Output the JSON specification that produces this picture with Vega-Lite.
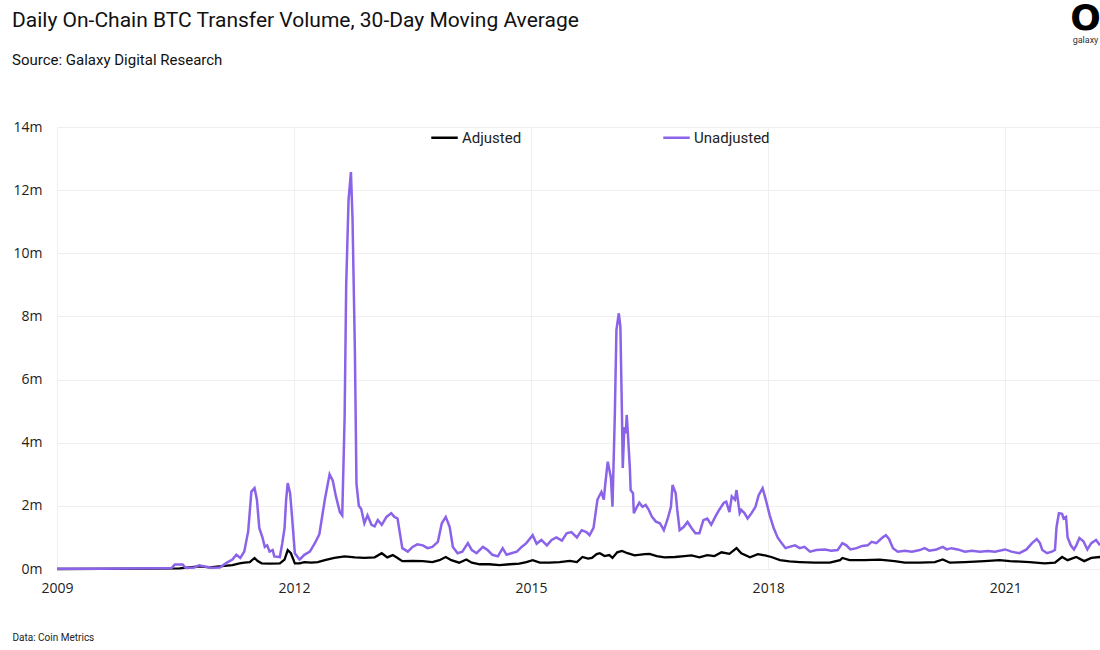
{
  "$schema": "https://vega.github.io/schema/vega-lite/v6.json",
  "autosize": {"type": "none"},
  "width": 1043,
  "height": 442,
  "padding": {"left": 57, "top": 127, "right": 0, "bottom": 81},
  "background": "white",
  "title": {
    "text": "Daily On-Chain BTC Transfer Volume, 30-Day Moving Average",
    "subtitle": "Source: Galaxy Digital Research",
    "anchor": "start",
    "frame": "group",
    "dx": -45,
    "offset": -68,
    "font": "Roboto",
    "fontSize": 21,
    "fontWeight": "normal",
    "color": "#111111",
    "subtitleFont": "Roboto",
    "subtitleFontSize": 15,
    "subtitleColor": "#111111",
    "subtitlePadding": 22
  },
  "config": {
    "view": {"stroke": null},
    "axis": {"labelFont": "Open Sans", "labelFontSize": 14, "labelColor": "#222222", "gridColor": "#efefef", "gridWidth": 1}
  },
  "data": {"values": [
    {"year": 2009.00, "series": "Adjusted", "volume": 0.0},
    {"year": 2010.17, "series": "Adjusted", "volume": 0.01},
    {"year": 2010.55, "series": "Adjusted", "volume": 0.02},
    {"year": 2010.80, "series": "Adjusted", "volume": 0.08},
    {"year": 2010.93, "series": "Adjusted", "volume": 0.05},
    {"year": 2011.12, "series": "Adjusted", "volume": 0.1},
    {"year": 2011.22, "series": "Adjusted", "volume": 0.12},
    {"year": 2011.31, "series": "Adjusted", "volume": 0.18},
    {"year": 2011.37, "series": "Adjusted", "volume": 0.2},
    {"year": 2011.44, "series": "Adjusted", "volume": 0.22},
    {"year": 2011.50, "series": "Adjusted", "volume": 0.35},
    {"year": 2011.54, "series": "Adjusted", "volume": 0.25},
    {"year": 2011.59, "series": "Adjusted", "volume": 0.18},
    {"year": 2011.69, "series": "Adjusted", "volume": 0.17},
    {"year": 2011.82, "series": "Adjusted", "volume": 0.18},
    {"year": 2011.88, "series": "Adjusted", "volume": 0.3},
    {"year": 2011.92, "series": "Adjusted", "volume": 0.6},
    {"year": 2011.96, "series": "Adjusted", "volume": 0.5},
    {"year": 2012.01, "series": "Adjusted", "volume": 0.18},
    {"year": 2012.07, "series": "Adjusted", "volume": 0.18},
    {"year": 2012.13, "series": "Adjusted", "volume": 0.22},
    {"year": 2012.22, "series": "Adjusted", "volume": 0.2},
    {"year": 2012.30, "series": "Adjusted", "volume": 0.22},
    {"year": 2012.39, "series": "Adjusted", "volume": 0.28},
    {"year": 2012.51, "series": "Adjusted", "volume": 0.35},
    {"year": 2012.64, "series": "Adjusted", "volume": 0.4},
    {"year": 2012.77, "series": "Adjusted", "volume": 0.37},
    {"year": 2012.89, "series": "Adjusted", "volume": 0.35},
    {"year": 2013.02, "series": "Adjusted", "volume": 0.37},
    {"year": 2013.11, "series": "Adjusted", "volume": 0.5},
    {"year": 2013.18, "series": "Adjusted", "volume": 0.37},
    {"year": 2013.25, "series": "Adjusted", "volume": 0.44},
    {"year": 2013.31, "series": "Adjusted", "volume": 0.35},
    {"year": 2013.37, "series": "Adjusted", "volume": 0.25},
    {"year": 2013.50, "series": "Adjusted", "volume": 0.26},
    {"year": 2013.63, "series": "Adjusted", "volume": 0.25},
    {"year": 2013.75, "series": "Adjusted", "volume": 0.22},
    {"year": 2013.84, "series": "Adjusted", "volume": 0.28},
    {"year": 2013.92, "series": "Adjusted", "volume": 0.38},
    {"year": 2013.99, "series": "Adjusted", "volume": 0.28},
    {"year": 2014.09, "series": "Adjusted", "volume": 0.2},
    {"year": 2014.18, "series": "Adjusted", "volume": 0.3},
    {"year": 2014.25, "series": "Adjusted", "volume": 0.2},
    {"year": 2014.35, "series": "Adjusted", "volume": 0.15},
    {"year": 2014.47, "series": "Adjusted", "volume": 0.15},
    {"year": 2014.60, "series": "Adjusted", "volume": 0.12},
    {"year": 2014.73, "series": "Adjusted", "volume": 0.15},
    {"year": 2014.85, "series": "Adjusted", "volume": 0.17},
    {"year": 2014.94, "series": "Adjusted", "volume": 0.22},
    {"year": 2015.02, "series": "Adjusted", "volume": 0.28},
    {"year": 2015.11, "series": "Adjusted", "volume": 0.2},
    {"year": 2015.23, "series": "Adjusted", "volume": 0.2},
    {"year": 2015.36, "series": "Adjusted", "volume": 0.22},
    {"year": 2015.49, "series": "Adjusted", "volume": 0.26},
    {"year": 2015.58, "series": "Adjusted", "volume": 0.22},
    {"year": 2015.65, "series": "Adjusted", "volume": 0.38},
    {"year": 2015.72, "series": "Adjusted", "volume": 0.33},
    {"year": 2015.77, "series": "Adjusted", "volume": 0.35},
    {"year": 2015.83, "series": "Adjusted", "volume": 0.47},
    {"year": 2015.87, "series": "Adjusted", "volume": 0.5},
    {"year": 2015.93, "series": "Adjusted", "volume": 0.41},
    {"year": 2015.99, "series": "Adjusted", "volume": 0.44},
    {"year": 2016.03, "series": "Adjusted", "volume": 0.35},
    {"year": 2016.09, "series": "Adjusted", "volume": 0.53},
    {"year": 2016.15, "series": "Adjusted", "volume": 0.57},
    {"year": 2016.22, "series": "Adjusted", "volume": 0.5},
    {"year": 2016.31, "series": "Adjusted", "volume": 0.43},
    {"year": 2016.44, "series": "Adjusted", "volume": 0.47},
    {"year": 2016.50, "series": "Adjusted", "volume": 0.48},
    {"year": 2016.59, "series": "Adjusted", "volume": 0.41},
    {"year": 2016.69, "series": "Adjusted", "volume": 0.37},
    {"year": 2016.82, "series": "Adjusted", "volume": 0.38},
    {"year": 2016.94, "series": "Adjusted", "volume": 0.41},
    {"year": 2017.03, "series": "Adjusted", "volume": 0.43},
    {"year": 2017.13, "series": "Adjusted", "volume": 0.37},
    {"year": 2017.23, "series": "Adjusted", "volume": 0.44},
    {"year": 2017.32, "series": "Adjusted", "volume": 0.41},
    {"year": 2017.41, "series": "Adjusted", "volume": 0.53},
    {"year": 2017.51, "series": "Adjusted", "volume": 0.48},
    {"year": 2017.60, "series": "Adjusted", "volume": 0.66},
    {"year": 2017.66, "series": "Adjusted", "volume": 0.5},
    {"year": 2017.77, "series": "Adjusted", "volume": 0.37},
    {"year": 2017.87, "series": "Adjusted", "volume": 0.47},
    {"year": 2017.96, "series": "Adjusted", "volume": 0.43},
    {"year": 2018.04, "series": "Adjusted", "volume": 0.38},
    {"year": 2018.15, "series": "Adjusted", "volume": 0.28},
    {"year": 2018.27, "series": "Adjusted", "volume": 0.24},
    {"year": 2018.40, "series": "Adjusted", "volume": 0.22},
    {"year": 2018.59, "series": "Adjusted", "volume": 0.2},
    {"year": 2018.78, "series": "Adjusted", "volume": 0.2},
    {"year": 2018.91, "series": "Adjusted", "volume": 0.28},
    {"year": 2018.94, "series": "Adjusted", "volume": 0.35},
    {"year": 2019.03, "series": "Adjusted", "volume": 0.28},
    {"year": 2019.22, "series": "Adjusted", "volume": 0.28},
    {"year": 2019.41, "series": "Adjusted", "volume": 0.3},
    {"year": 2019.60, "series": "Adjusted", "volume": 0.25},
    {"year": 2019.73, "series": "Adjusted", "volume": 0.2},
    {"year": 2019.92, "series": "Adjusted", "volume": 0.2},
    {"year": 2020.11, "series": "Adjusted", "volume": 0.22},
    {"year": 2020.21, "series": "Adjusted", "volume": 0.3},
    {"year": 2020.30, "series": "Adjusted", "volume": 0.2},
    {"year": 2020.49, "series": "Adjusted", "volume": 0.22},
    {"year": 2020.74, "series": "Adjusted", "volume": 0.25},
    {"year": 2020.93, "series": "Adjusted", "volume": 0.28},
    {"year": 2021.06, "series": "Adjusted", "volume": 0.25},
    {"year": 2021.31, "series": "Adjusted", "volume": 0.22},
    {"year": 2021.50, "series": "Adjusted", "volume": 0.18},
    {"year": 2021.63, "series": "Adjusted", "volume": 0.2},
    {"year": 2021.72, "series": "Adjusted", "volume": 0.38},
    {"year": 2021.79, "series": "Adjusted", "volume": 0.28},
    {"year": 2021.90, "series": "Adjusted", "volume": 0.38},
    {"year": 2022.00, "series": "Adjusted", "volume": 0.25},
    {"year": 2022.09, "series": "Adjusted", "volume": 0.35},
    {"year": 2022.20, "series": "Adjusted", "volume": 0.38},

    {"year": 2009.00, "series": "Unadjusted", "volume": 0.01},
    {"year": 2009.54, "series": "Unadjusted", "volume": 0.01},
    {"year": 2010.17, "series": "Unadjusted", "volume": 0.02},
    {"year": 2010.45, "series": "Unadjusted", "volume": 0.03},
    {"year": 2010.49, "series": "Unadjusted", "volume": 0.14},
    {"year": 2010.59, "series": "Unadjusted", "volume": 0.14},
    {"year": 2010.63, "series": "Unadjusted", "volume": 0.03},
    {"year": 2010.74, "series": "Unadjusted", "volume": 0.05},
    {"year": 2010.80, "series": "Unadjusted", "volume": 0.12},
    {"year": 2010.87, "series": "Unadjusted", "volume": 0.08},
    {"year": 2010.96, "series": "Unadjusted", "volume": 0.04},
    {"year": 2011.06, "series": "Unadjusted", "volume": 0.05},
    {"year": 2011.15, "series": "Unadjusted", "volume": 0.2},
    {"year": 2011.22, "series": "Unadjusted", "volume": 0.3},
    {"year": 2011.27, "series": "Unadjusted", "volume": 0.45},
    {"year": 2011.32, "series": "Unadjusted", "volume": 0.35},
    {"year": 2011.37, "series": "Unadjusted", "volume": 0.55},
    {"year": 2011.42, "series": "Unadjusted", "volume": 1.2},
    {"year": 2011.46, "series": "Unadjusted", "volume": 2.45},
    {"year": 2011.50, "series": "Unadjusted", "volume": 2.56},
    {"year": 2011.53, "series": "Unadjusted", "volume": 2.2},
    {"year": 2011.56, "series": "Unadjusted", "volume": 1.3},
    {"year": 2011.60, "series": "Unadjusted", "volume": 1.0},
    {"year": 2011.63, "series": "Unadjusted", "volume": 0.7},
    {"year": 2011.66, "series": "Unadjusted", "volume": 0.75},
    {"year": 2011.69, "series": "Unadjusted", "volume": 0.55},
    {"year": 2011.73, "series": "Unadjusted", "volume": 0.6},
    {"year": 2011.75, "series": "Unadjusted", "volume": 0.4},
    {"year": 2011.82, "series": "Unadjusted", "volume": 0.38},
    {"year": 2011.85, "series": "Unadjusted", "volume": 0.8},
    {"year": 2011.88, "series": "Unadjusted", "volume": 1.3},
    {"year": 2011.90, "series": "Unadjusted", "volume": 2.2},
    {"year": 2011.92, "series": "Unadjusted", "volume": 2.72},
    {"year": 2011.95, "series": "Unadjusted", "volume": 2.4},
    {"year": 2011.97, "series": "Unadjusted", "volume": 1.8},
    {"year": 2012.01, "series": "Unadjusted", "volume": 0.5},
    {"year": 2012.07, "series": "Unadjusted", "volume": 0.3},
    {"year": 2012.13, "series": "Unadjusted", "volume": 0.45},
    {"year": 2012.20, "series": "Unadjusted", "volume": 0.55},
    {"year": 2012.26, "series": "Unadjusted", "volume": 0.8},
    {"year": 2012.32, "series": "Unadjusted", "volume": 1.1},
    {"year": 2012.39, "series": "Unadjusted", "volume": 2.2},
    {"year": 2012.45, "series": "Unadjusted", "volume": 3.0},
    {"year": 2012.49, "series": "Unadjusted", "volume": 2.8},
    {"year": 2012.53, "series": "Unadjusted", "volume": 2.3},
    {"year": 2012.58, "series": "Unadjusted", "volume": 1.8},
    {"year": 2012.61, "series": "Unadjusted", "volume": 1.7},
    {"year": 2012.64, "series": "Unadjusted", "volume": 4.8},
    {"year": 2012.66, "series": "Unadjusted", "volume": 9.0},
    {"year": 2012.69, "series": "Unadjusted", "volume": 11.7},
    {"year": 2012.72, "series": "Unadjusted", "volume": 12.57},
    {"year": 2012.74, "series": "Unadjusted", "volume": 11.1},
    {"year": 2012.77, "series": "Unadjusted", "volume": 6.9},
    {"year": 2012.79, "series": "Unadjusted", "volume": 2.7},
    {"year": 2012.82, "series": "Unadjusted", "volume": 2.0},
    {"year": 2012.85, "series": "Unadjusted", "volume": 1.9},
    {"year": 2012.89, "series": "Unadjusted", "volume": 1.45},
    {"year": 2012.93, "series": "Unadjusted", "volume": 1.7},
    {"year": 2012.98, "series": "Unadjusted", "volume": 1.4},
    {"year": 2013.02, "series": "Unadjusted", "volume": 1.35},
    {"year": 2013.06, "series": "Unadjusted", "volume": 1.55},
    {"year": 2013.11, "series": "Unadjusted", "volume": 1.4},
    {"year": 2013.17, "series": "Unadjusted", "volume": 1.65},
    {"year": 2013.23, "series": "Unadjusted", "volume": 1.77},
    {"year": 2013.27, "series": "Unadjusted", "volume": 1.65},
    {"year": 2013.31, "series": "Unadjusted", "volume": 1.6},
    {"year": 2013.34, "series": "Unadjusted", "volume": 1.13},
    {"year": 2013.37, "series": "Unadjusted", "volume": 0.66},
    {"year": 2013.44, "series": "Unadjusted", "volume": 0.55},
    {"year": 2013.50, "series": "Unadjusted", "volume": 0.7},
    {"year": 2013.56, "series": "Unadjusted", "volume": 0.78},
    {"year": 2013.63, "series": "Unadjusted", "volume": 0.75},
    {"year": 2013.69, "series": "Unadjusted", "volume": 0.66},
    {"year": 2013.75, "series": "Unadjusted", "volume": 0.7},
    {"year": 2013.82, "series": "Unadjusted", "volume": 0.86},
    {"year": 2013.87, "series": "Unadjusted", "volume": 1.45},
    {"year": 2013.92, "series": "Unadjusted", "volume": 1.65},
    {"year": 2013.97, "series": "Unadjusted", "volume": 1.33},
    {"year": 2014.01, "series": "Unadjusted", "volume": 0.7},
    {"year": 2014.07, "series": "Unadjusted", "volume": 0.5},
    {"year": 2014.13, "series": "Unadjusted", "volume": 0.55},
    {"year": 2014.20, "series": "Unadjusted", "volume": 0.82},
    {"year": 2014.25, "series": "Unadjusted", "volume": 0.6},
    {"year": 2014.31, "series": "Unadjusted", "volume": 0.5},
    {"year": 2014.39, "series": "Unadjusted", "volume": 0.7},
    {"year": 2014.45, "series": "Unadjusted", "volume": 0.6},
    {"year": 2014.51, "series": "Unadjusted", "volume": 0.45},
    {"year": 2014.58, "series": "Unadjusted", "volume": 0.4},
    {"year": 2014.64, "series": "Unadjusted", "volume": 0.66},
    {"year": 2014.69, "series": "Unadjusted", "volume": 0.45},
    {"year": 2014.75, "series": "Unadjusted", "volume": 0.5},
    {"year": 2014.82, "series": "Unadjusted", "volume": 0.55},
    {"year": 2014.88, "series": "Unadjusted", "volume": 0.7},
    {"year": 2014.94, "series": "Unadjusted", "volume": 0.82},
    {"year": 2015.02, "series": "Unadjusted", "volume": 1.07},
    {"year": 2015.07, "series": "Unadjusted", "volume": 0.8},
    {"year": 2015.13, "series": "Unadjusted", "volume": 0.92},
    {"year": 2015.20, "series": "Unadjusted", "volume": 0.75},
    {"year": 2015.26, "series": "Unadjusted", "volume": 0.92},
    {"year": 2015.32, "series": "Unadjusted", "volume": 1.0},
    {"year": 2015.39, "series": "Unadjusted", "volume": 0.9},
    {"year": 2015.45, "series": "Unadjusted", "volume": 1.13},
    {"year": 2015.51, "series": "Unadjusted", "volume": 1.17},
    {"year": 2015.58, "series": "Unadjusted", "volume": 1.0},
    {"year": 2015.64, "series": "Unadjusted", "volume": 1.23},
    {"year": 2015.70, "series": "Unadjusted", "volume": 1.17},
    {"year": 2015.74, "series": "Unadjusted", "volume": 1.07},
    {"year": 2015.79, "series": "Unadjusted", "volume": 1.3},
    {"year": 2015.84, "series": "Unadjusted", "volume": 2.2},
    {"year": 2015.89, "series": "Unadjusted", "volume": 2.44},
    {"year": 2015.92, "series": "Unadjusted", "volume": 2.2},
    {"year": 2015.94, "series": "Unadjusted", "volume": 2.72},
    {"year": 2015.97, "series": "Unadjusted", "volume": 3.4},
    {"year": 2016.01, "series": "Unadjusted", "volume": 2.9},
    {"year": 2016.03, "series": "Unadjusted", "volume": 1.97},
    {"year": 2016.06, "series": "Unadjusted", "volume": 4.9},
    {"year": 2016.08, "series": "Unadjusted", "volume": 7.57},
    {"year": 2016.11, "series": "Unadjusted", "volume": 8.1},
    {"year": 2016.13, "series": "Unadjusted", "volume": 7.67},
    {"year": 2016.15, "series": "Unadjusted", "volume": 4.9},
    {"year": 2016.16, "series": "Unadjusted", "volume": 3.2},
    {"year": 2016.18, "series": "Unadjusted", "volume": 4.5},
    {"year": 2016.20, "series": "Unadjusted", "volume": 4.3},
    {"year": 2016.21, "series": "Unadjusted", "volume": 4.88},
    {"year": 2016.22, "series": "Unadjusted", "volume": 4.5},
    {"year": 2016.25, "series": "Unadjusted", "volume": 3.2},
    {"year": 2016.26, "series": "Unadjusted", "volume": 2.5},
    {"year": 2016.29, "series": "Unadjusted", "volume": 2.4},
    {"year": 2016.30, "series": "Unadjusted", "volume": 1.77},
    {"year": 2016.34, "series": "Unadjusted", "volume": 1.97},
    {"year": 2016.37, "series": "Unadjusted", "volume": 2.1},
    {"year": 2016.41, "series": "Unadjusted", "volume": 1.97},
    {"year": 2016.45, "series": "Unadjusted", "volume": 2.03},
    {"year": 2016.49, "series": "Unadjusted", "volume": 1.87},
    {"year": 2016.53, "series": "Unadjusted", "volume": 1.65},
    {"year": 2016.58, "series": "Unadjusted", "volume": 1.5},
    {"year": 2016.63, "series": "Unadjusted", "volume": 1.45},
    {"year": 2016.68, "series": "Unadjusted", "volume": 1.23},
    {"year": 2016.73, "series": "Unadjusted", "volume": 1.6},
    {"year": 2016.77, "series": "Unadjusted", "volume": 1.97},
    {"year": 2016.79, "series": "Unadjusted", "volume": 2.66},
    {"year": 2016.83, "series": "Unadjusted", "volume": 2.4},
    {"year": 2016.85, "series": "Unadjusted", "volume": 1.87},
    {"year": 2016.88, "series": "Unadjusted", "volume": 1.23},
    {"year": 2016.93, "series": "Unadjusted", "volume": 1.33},
    {"year": 2016.98, "series": "Unadjusted", "volume": 1.49},
    {"year": 2017.03, "series": "Unadjusted", "volume": 1.3},
    {"year": 2017.08, "series": "Unadjusted", "volume": 1.13},
    {"year": 2017.13, "series": "Unadjusted", "volume": 1.13},
    {"year": 2017.18, "series": "Unadjusted", "volume": 1.55},
    {"year": 2017.23, "series": "Unadjusted", "volume": 1.6},
    {"year": 2017.28, "series": "Unadjusted", "volume": 1.4},
    {"year": 2017.33, "series": "Unadjusted", "volume": 1.65},
    {"year": 2017.38, "series": "Unadjusted", "volume": 1.87},
    {"year": 2017.44, "series": "Unadjusted", "volume": 2.1},
    {"year": 2017.47, "series": "Unadjusted", "volume": 2.13},
    {"year": 2017.51, "series": "Unadjusted", "volume": 1.8},
    {"year": 2017.54, "series": "Unadjusted", "volume": 2.3},
    {"year": 2017.58, "series": "Unadjusted", "volume": 2.2},
    {"year": 2017.60, "series": "Unadjusted", "volume": 2.5},
    {"year": 2017.64, "series": "Unadjusted", "volume": 1.77},
    {"year": 2017.66, "series": "Unadjusted", "volume": 1.87},
    {"year": 2017.70, "series": "Unadjusted", "volume": 1.77},
    {"year": 2017.74, "series": "Unadjusted", "volume": 1.6},
    {"year": 2017.79, "series": "Unadjusted", "volume": 1.77},
    {"year": 2017.84, "series": "Unadjusted", "volume": 1.97},
    {"year": 2017.88, "series": "Unadjusted", "volume": 2.34},
    {"year": 2017.93, "series": "Unadjusted", "volume": 2.56},
    {"year": 2017.97, "series": "Unadjusted", "volume": 2.2},
    {"year": 2018.02, "series": "Unadjusted", "volume": 1.7},
    {"year": 2018.07, "series": "Unadjusted", "volume": 1.3},
    {"year": 2018.12, "series": "Unadjusted", "volume": 1.0},
    {"year": 2018.17, "series": "Unadjusted", "volume": 0.82},
    {"year": 2018.22, "series": "Unadjusted", "volume": 0.66},
    {"year": 2018.27, "series": "Unadjusted", "volume": 0.7},
    {"year": 2018.34, "series": "Unadjusted", "volume": 0.75},
    {"year": 2018.40, "series": "Unadjusted", "volume": 0.66},
    {"year": 2018.46, "series": "Unadjusted", "volume": 0.7},
    {"year": 2018.53, "series": "Unadjusted", "volume": 0.55},
    {"year": 2018.61, "series": "Unadjusted", "volume": 0.6},
    {"year": 2018.72, "series": "Unadjusted", "volume": 0.62},
    {"year": 2018.80, "series": "Unadjusted", "volume": 0.58},
    {"year": 2018.88, "series": "Unadjusted", "volume": 0.6},
    {"year": 2018.94, "series": "Unadjusted", "volume": 0.82},
    {"year": 2018.99, "series": "Unadjusted", "volume": 0.75},
    {"year": 2019.04, "series": "Unadjusted", "volume": 0.62},
    {"year": 2019.12, "series": "Unadjusted", "volume": 0.66},
    {"year": 2019.19, "series": "Unadjusted", "volume": 0.73},
    {"year": 2019.26, "series": "Unadjusted", "volume": 0.75},
    {"year": 2019.31, "series": "Unadjusted", "volume": 0.86},
    {"year": 2019.37, "series": "Unadjusted", "volume": 0.82},
    {"year": 2019.44, "series": "Unadjusted", "volume": 0.98},
    {"year": 2019.49, "series": "Unadjusted", "volume": 1.07},
    {"year": 2019.53, "series": "Unadjusted", "volume": 0.95},
    {"year": 2019.58, "series": "Unadjusted", "volume": 0.66},
    {"year": 2019.64, "series": "Unadjusted", "volume": 0.55},
    {"year": 2019.73, "series": "Unadjusted", "volume": 0.58},
    {"year": 2019.82, "series": "Unadjusted", "volume": 0.55},
    {"year": 2019.92, "series": "Unadjusted", "volume": 0.6},
    {"year": 2019.98, "series": "Unadjusted", "volume": 0.66},
    {"year": 2020.04, "series": "Unadjusted", "volume": 0.58},
    {"year": 2020.13, "series": "Unadjusted", "volume": 0.62},
    {"year": 2020.21, "series": "Unadjusted", "volume": 0.7},
    {"year": 2020.26, "series": "Unadjusted", "volume": 0.62},
    {"year": 2020.32, "series": "Unadjusted", "volume": 0.66},
    {"year": 2020.40, "series": "Unadjusted", "volume": 0.62},
    {"year": 2020.49, "series": "Unadjusted", "volume": 0.55},
    {"year": 2020.58, "series": "Unadjusted", "volume": 0.58},
    {"year": 2020.68, "series": "Unadjusted", "volume": 0.55},
    {"year": 2020.78, "series": "Unadjusted", "volume": 0.57},
    {"year": 2020.87, "series": "Unadjusted", "volume": 0.55},
    {"year": 2021.00, "series": "Unadjusted", "volume": 0.62},
    {"year": 2021.08, "series": "Unadjusted", "volume": 0.55},
    {"year": 2021.18, "series": "Unadjusted", "volume": 0.5},
    {"year": 2021.27, "series": "Unadjusted", "volume": 0.62},
    {"year": 2021.34, "series": "Unadjusted", "volume": 0.82},
    {"year": 2021.40, "series": "Unadjusted", "volume": 0.95},
    {"year": 2021.44, "series": "Unadjusted", "volume": 0.82},
    {"year": 2021.47, "series": "Unadjusted", "volume": 0.6},
    {"year": 2021.53, "series": "Unadjusted", "volume": 0.5},
    {"year": 2021.59, "series": "Unadjusted", "volume": 0.55},
    {"year": 2021.63, "series": "Unadjusted", "volume": 0.6},
    {"year": 2021.65, "series": "Unadjusted", "volume": 1.33},
    {"year": 2021.68, "series": "Unadjusted", "volume": 1.77},
    {"year": 2021.72, "series": "Unadjusted", "volume": 1.75},
    {"year": 2021.74, "series": "Unadjusted", "volume": 1.6},
    {"year": 2021.77, "series": "Unadjusted", "volume": 1.65},
    {"year": 2021.79, "series": "Unadjusted", "volume": 1.0},
    {"year": 2021.83, "series": "Unadjusted", "volume": 0.75},
    {"year": 2021.87, "series": "Unadjusted", "volume": 0.62},
    {"year": 2021.90, "series": "Unadjusted", "volume": 0.75},
    {"year": 2021.94, "series": "Unadjusted", "volume": 0.98},
    {"year": 2021.99, "series": "Unadjusted", "volume": 0.88},
    {"year": 2022.04, "series": "Unadjusted", "volume": 0.62},
    {"year": 2022.09, "series": "Unadjusted", "volume": 0.82},
    {"year": 2022.15, "series": "Unadjusted", "volume": 0.92},
    {"year": 2022.20, "series": "Unadjusted", "volume": 0.75}
  ]},
  "layer": [
    {
      "transform": [{"filter": "datum.series === 'Adjusted'"}],
      "mark": {"type": "line", "strokeWidth": 2.3, "interpolate": "linear"},
      "encoding": {
        "x": {"field": "year", "type": "quantitative",
          "scale": {"domain": [2009, 2022.2], "nice": false, "zero": false},
          "axis": {"values": [2009, 2012, 2015, 2018, 2021], "format": "d", "domain": false, "ticks": false, "labelPadding": 12, "labelFlush": false,
            "title": "Data: Coin Metrics", "titleFont": "Roboto", "titleFontSize": 10, "titleFontWeight": "normal", "titleColor": "#222222",
            "titleAnchor": "start", "titleAlign": "left", "titleBaseline": "alphabetic", "titleX": -45, "titleY": 71}},
        "y": {"field": "volume", "type": "quantitative",
          "scale": {"domain": [0, 14], "nice": false},
          "axis": {"values": [0, 2, 4, 6, 8, 10, 12, 14], "labelExpr": "datum.value + 'm'", "domain": false, "ticks": false, "labelPadding": 15,
            "title": "galaxy", "titleFont": "Roboto", "titleFontSize": 9, "titleFontWeight": "normal", "titleColor": "#333333", "titleAngle": 0,
            "titleAlign": "center", "titleBaseline": "alphabetic", "titleX": 1028, "titleY": -85}},
        "color": {"field": "series", "type": "nominal",
          "scale": {"domain": ["Adjusted", "Unadjusted"], "range": ["#000000", "#8b63e8"]},
          "legend": {"title": null, "orient": "none", "legendX": 373, "legendY": -4, "direction": "horizontal",
            "symbolType": "stroke", "symbolSize": 700, "symbolStrokeWidth": 2.5, "labelFont": "Roboto", "labelFontSize": 15, "labelColor": "#222222",
            "labelOffset": 3, "columnPadding": 136}}
      }
    },
    {
      "transform": [{"filter": "datum.series === 'Unadjusted'"}],
      "mark": {"type": "line", "strokeWidth": 2.5, "interpolate": "linear"},
      "encoding": {
        "x": {"field": "year", "type": "quantitative"},
        "y": {"field": "volume", "type": "quantitative",
          "scale": {"domain": [0, 14], "nice": false},
          "axis": {"orient": "right", "labels": false, "ticks": false, "domain": false, "grid": false,
            "title": "O", "titleFont": "DejaVu Sans", "titleFontSize": 36, "titleFontWeight": "bold", "titleColor": "#000000", "titleAngle": 0,
            "titleAlign": "center", "titleBaseline": "alphabetic", "titleX": -15, "titleY": -98}},
        "color": {"field": "series", "type": "nominal"}
      }
    }
  ],
  "resolve": {"scale": {"y": "independent"}}
}
